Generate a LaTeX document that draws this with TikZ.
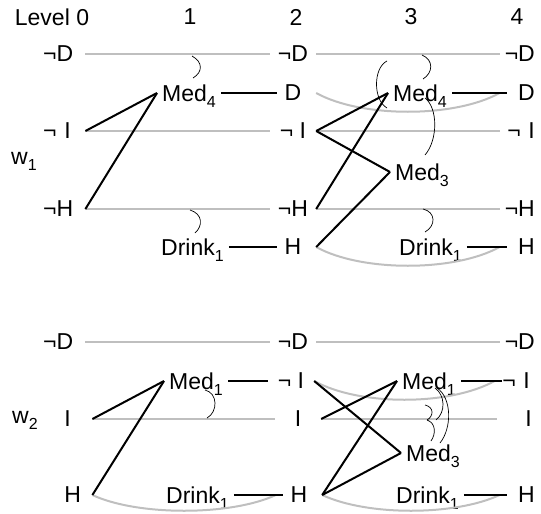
\documentclass[tikz,border=0pt]{standalone}
\usepackage{fontspec}
\setmainfont{Liberation Sans}
\usepackage{tikz}
\newcommand{\lowsub}[1]{\smash{\raisebox{-6pt}{\fontsize{16}{16}\selectfont #1}}}

\begin{document}
\begin{tikzpicture}[x=1pt, y=-1pt, font=\fontsize{23}{27}\selectfont,
  lit0/.style={inner xsep=3pt, inner ysep=1pt, text width=39pt, align=left, anchor=west},
  lit2/.style={inner xsep=0pt, inner ysep=1pt, minimum width=46pt},
  lit4/.style={inner xsep=2pt, inner ysep=1pt, text width=33pt, align=right, anchor=east},
  act/.style={inner xsep=5pt, inner ysep=1pt, anchor=west},
  noop/.style={black!25, line width=2pt},
  link/.style={black, line width=2pt},
  effect/.style={link, shorten >=-7pt},
  mutex/.style={black, line width=0.7pt}]
  \useasboundingbox (0,0) rectangle (541,514);
  % Level headings and worlds
  \node (lev0) at (52,17) {Level 0};
  \node (lev1) at (190,17) {1};
  \node (lev2) at (296,17) {2};
  \node (lev3) at (411,17) {3};
  \node (lev4) at (517,17) {4};
  \node[anchor=west, inner sep=0pt] (w1) at (11,158) {w\lowsub{1}};
  \node[anchor=west, inner sep=0pt] (w2) at (12,417) {w\lowsub{2}};

  % World w1: literals and actions
  \node[lit0] (a0nD) at (40,54) {¬D};
  \node[lit0] (a0nI) at (40,131) {¬ I};
  \node[lit0] (a0nH) at (40,209) {¬H};
  \node[act] (a1Med) at (157,93) {Med\lowsub{4}};
  \node[act] (a1Drink) at (156,247) {Drink\lowsub{1}};
  \node[lit2] (a2nD) at (293,54) {¬D};
  \node[lit2] (a2D) at (293,93) {D};
  \node[lit2] (a2nI) at (293,131) {¬ I};
  \node[lit2] (a2nH) at (293,209) {¬H};
  \node[lit2] (a2H) at (293,247) {H};
  \node[act] (a3Med4) at (388,93) {Med\lowsub{4}};
  \node[act] (a3Med3) at (390,172) {Med\lowsub{3}};
  \node[act] (a3Drink) at (394,247) {Drink\lowsub{1}};
  \node[lit4] (a4nD) at (537,54) {¬D};
  \node[lit4] (a4D) at (537,93) {D};
  \node[lit4] (a4nI) at (537,131) {¬ I};
  \node[lit4] (a4nH) at (537,209) {¬H};
  \node[lit4] (a4H) at (537,247) {H};

  % w1: persistence (grey)
  \draw[noop] (a0nD.east) -- (a2nD.west);
  \draw[noop] (a0nI.east) -- (a2nI.west);
  \draw[noop] (a0nH.east) -- (a2nH.west);
  \draw[noop] (a2nD.east) -- (a4nD.west);
  \draw[noop] (a2nI.east) -- (a4nI.west);
  \draw[noop] (a2nH.east) -- (a4nH.west);
  \draw[noop] (a2D.east) .. controls +(45,25) and +(-45,25) .. (a4D.west);
  \draw[noop] (a2H.east) .. controls +(45,25) and +(-45,25) .. (a4H.west);

  % w1: preconditions and effects
  \draw[link] (a0nI.east) -- (a1Med.west);
  \draw[link] (a0nH.east) -- (a1Med.west);
  \draw[effect] (a1Med.east) -- (a2D.west);
  \draw[effect] (a1Drink.east) -- (a2H.west);
  \draw[link] (a2nI.east) -- (a3Med4.west);
  \draw[link] (a2nH.east) -- (a3Med4.west);
  \draw[link] (a2nI.east) -- (a3Med3.west);
  \draw[link] (a2H.east) -- (a3Med3.west);
  \draw[effect] (a3Med4.east) -- (a4D.west);
  \draw[effect] (a3Drink.east) -- (a4H.west);

  % w1: mutex arcs
  \draw[mutex] (192,56) .. controls (203,62) and (203,72) .. (193,78);
  \draw[mutex] (190,210) .. controls (203,214) and (203,226) .. (195,233);
  \draw[mutex] (422,55) .. controls (434,60) and (433,73) .. (423,79);
  \draw[mutex] (387,61) .. controls (373,68) and (373,100) .. (387,108);
  \draw[mutex] (425,98) .. controls (438,108) and (438,140) .. (425,155);
  \draw[mutex] (423,209) .. controls (436,212) and (436,226) .. (425,232);

  % World w2: literals and actions
  \node[lit0] (b0nD) at (40,342) {¬D};
  \node[lit0, text width=46pt] (b0I) at (40,419) {\phantom{¬ }I};
  \node[lit0, text width=46pt] (b0H) at (40,495) {\phantom{¬ }H};
  \node[act] (b1Med) at (164,381) {Med\lowsub{1}};
  \node[act] (b1Drink) at (161,495) {Drink\lowsub{1}};
  \node[lit2] (b2nD) at (293,342) {¬D};
  \node[lit2] (b2nI) at (291,381) {¬ I};
  \node[lit2] (b2I) at (298,419) {I};
  \node[lit2] (b2H) at (299,495) {H};
  \node[act] (b3Med1) at (397,381) {Med\lowsub{1}};
  \node[act] (b3Med3) at (401,453) {Med\lowsub{3}};
  \node[act] (b3Drink) at (391,495) {Drink\lowsub{1}};
  \node[lit4] (b4nD) at (537,342) {¬D};
  \node[lit4] (b4nI) at (532,381) {¬ I};
  \node[lit4] (b4I) at (534,419) {I};
  \node[lit4] (b4H) at (537,495) {H};

  % w2: persistence (grey)
  \draw[noop] (b0nD.east) -- (b2nD.west);
  \draw[noop] (b0I.east) -- (b2I.west);
  \draw[noop] (b0H.east) .. controls +(45,21) and +(-45,21) .. (b2H.west);
  \draw[noop] (b2nD.east) -- (b4nD.west);
  \draw[noop] (b2I.east) -- (b4I.west);
  \draw[noop] (b2nI.east) .. controls +(45,25) and +(-45,25) .. (b4nI.west);
  \draw[noop] (b2H.east) .. controls +(45,21) and +(-45,21) .. (b4H.west);

  % w2: preconditions and effects
  \draw[link] (b0I.east) -- (b1Med.west);
  \draw[link] (b0H.east) -- (b1Med.west);
  \draw[link] (b1Med.east) -- (b2nI.west);
  \draw[effect] (b1Drink.east) -- (b2H.west);
  \draw[link] (b2nI.east) -- (b3Med3.west);
  \draw[link] (b2I.east) -- (b3Med1.west);
  \draw[link] (b2H.east) -- (b3Med1.west);
  \draw[link] (b2H.east) -- (b3Med3.west);
  \draw[effect] (b3Med1.east) -- (b4nI.west);
  \draw[effect] (b3Drink.east) -- (b4H.west);

  % w2: mutex arcs
  \draw[mutex] (205,390) .. controls (218,393) and (218,412) .. (207,418);
  \draw[mutex] (435,388) .. controls (445,395) and (446,412) .. (436,420);
  \draw[mutex] (437,388) .. controls (452,398) and (452,428) .. (440,443);
  \draw[mutex] (425,405) .. controls (434,407) and (434,416) .. (427,420);
  \draw[mutex] (427,420) .. controls (436,423) and (436,434) .. (431,441);
\end{tikzpicture}
\end{document}
